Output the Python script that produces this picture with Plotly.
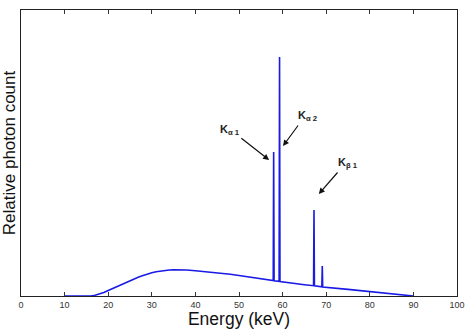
import plotly.graph_objects as go

# Spectrum: energy (keV) and relative photon count (continuum + characteristic lines)
energy = [10, 16, 17, 18, 19, 20, 21, 22, 23, 24, 25, 26, 27, 28, 29, 30, 31, 32, 33, 34,
          35, 36, 37, 38, 40, 42, 45, 48, 50, 52, 55,
          57.85, 57.95, 58.05,
          59.2, 59.3, 59.4,
          60, 65,
          67.1, 67.2, 67.3,
          69.0, 69.1, 69.2,
          75, 80, 85, 90]
count = [0, 0, 0.8, 2, 3.5, 5.5, 7.5, 9.5, 11.5, 13.5, 15.5, 17.3, 19, 20.5, 22, 23.2, 24.2, 25, 25.6, 26,
         26.2, 26.3, 26.2, 26, 25.3, 24.6, 23.4, 21.8, 20.5, 19.2, 17.2,
         15.4, 144, 15.3,
         14.6, 239, 14.5,
         14.1, 11.3,
         10.3, 86, 10.2,
         9.1, 30, 9.0,
         6.6, 4.5, 2.3, 0]

x_ticks = [0, 10, 20, 30, 40, 50, 60, 70, 80, 90, 100]

labels = ["K<sub>α 1</sub>", "K<sub>α 2</sub>", "K<sub>β 1</sub>"]
label_x = [48.0, 65.6, 74.9]
label_y = [166, 180, 133]
arrow_tail_x = [50.2, 63.8, 72.9]
arrow_tail_y = [159, 172, 125]
arrow_head_x = [56.9, 60.1, 68.3]
arrow_head_y = [136, 150, 102]

fig = go.Figure()
fig.add_trace(go.Scatter(x=energy, y=count, mode="lines",
                         line=dict(color="#1a1ae6", width=1.6), showlegend=False))

for t, lx, ly in zip(labels, label_x, label_y):
    fig.add_annotation(x=lx, y=ly, xref="x", yref="y", text="<b>" + t + "</b>",
                       showarrow=False, font=dict(family="Liberation Sans, Arial", size=11, color="#222"))
for tx, ty, hx, hy in zip(arrow_tail_x, arrow_tail_y, arrow_head_x, arrow_head_y):
    fig.add_annotation(x=hx, y=hy, xref="x", yref="y", ax=tx, ay=ty, axref="x", ayref="y",
                       text="", showarrow=True, arrowhead=2, arrowsize=1, arrowwidth=1.2,
                       arrowcolor="#111")

fig.update_layout(
    width=467, height=329,
    margin=dict(l=21, r=10, t=10, b=33),
    paper_bgcolor="white", plot_bgcolor="white",
    font=dict(family="Liberation Sans, Arial", color="#222"),
)
fig.update_xaxes(range=[0, 100], tickvals=x_ticks, ticks="inside", ticklen=4,
                 tickcolor="#333", showline=True, linecolor="#222", linewidth=1.2,
                 mirror="ticks", showgrid=False, zeroline=False, automargin=False,
                 tickfont=dict(size=9, color="#333"),
                 title=dict(text="Energy (keV)", font=dict(size=17.5, color="#111"), standoff=0))
fig.update_yaxes(range=[0, 286], showticklabels=False, ticks="", showline=True,
                 linecolor="#222", linewidth=1.2, mirror=True, showgrid=False, zeroline=False,
                 automargin=False,
                 title=dict(text="Relative photon count", font=dict(size=17, color="#111"), standoff=2))

fig.write_html("out.html")
